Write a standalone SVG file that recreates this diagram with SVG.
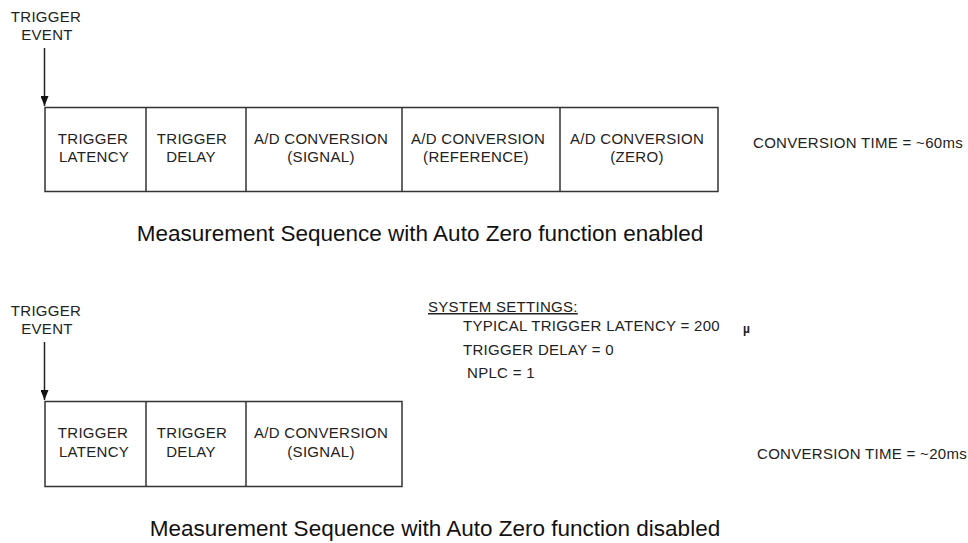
<svg xmlns="http://www.w3.org/2000/svg" width="968" height="543" viewBox="0 0 968 543">
<style>
.t{font-family:"Liberation Sans",Arial,sans-serif;font-size:15px;letter-spacing:0.3px;fill:#222}
.c{text-anchor:middle}
.cap{font-family:"Liberation Sans",Arial,sans-serif;font-size:22.5px;fill:#111;text-anchor:middle}
.box{fill:#fff;stroke:#333;stroke-width:1.5}
.div{stroke:#333;stroke-width:1.5}
.ln{stroke:#222;stroke-width:1.5;fill:none}
</style>
<defs>
<marker id="ah" viewBox="0 0 10 8" refX="10" refY="4" markerWidth="10" markerHeight="8" markerUnits="userSpaceOnUse" orient="auto">
<path d="M0,0 L10,4 L0,8 z" fill="#111"/>
</marker>
</defs>
<rect width="968" height="543" fill="#fff"/>

<!-- TOP SECTION -->
<g id="trigger-event-1">
<text class="t c" x="46" y="22">TRIGGER</text>
<text class="t c" x="47" y="40">EVENT</text>
</g>
<g id="connectors">
<line class="ln" x1="44.5" y1="48" x2="44.5" y2="106" marker-end="url(#ah)"/>
<line class="ln" x1="44.5" y1="342" x2="44.5" y2="400" marker-end="url(#ah)"/>
</g>
<g id="sequence-1">
<rect class="box" x="45" y="107.5" width="673" height="84"/>
<line class="div" x1="146" y1="107.5" x2="146" y2="191.5"/>
<line class="div" x1="246" y1="107.5" x2="246" y2="191.5"/>
<line class="div" x1="402" y1="107.5" x2="402" y2="191.5"/>
<line class="div" x1="560" y1="107.5" x2="560" y2="191.5"/>
<g id="s1-latency"><text class="t c" x="93" y="144">TRIGGER</text><text class="t c" x="94" y="162">LATENCY</text></g>
<g id="s1-delay"><text class="t c" x="192" y="144">TRIGGER</text><text class="t c" x="191" y="162">DELAY</text></g>
<g id="s1-signal"><text class="t c" x="321" y="144">A/D CONVERSION</text><text class="t c" x="321" y="162">(SIGNAL)</text></g>
<g id="s1-reference"><text class="t c" x="478" y="144">A/D CONVERSION</text><text class="t c" x="476" y="162">(REFERENCE)</text></g>
<g id="s1-zero"><text class="t c" x="637" y="144">A/D CONVERSION</text><text class="t c" x="637" y="162">(ZERO)</text></g>
</g>
<g id="conv-time-1"><text class="t" x="753" y="148">CONVERSION TIME = ~60ms</text></g>
<g id="caption-1"><text class="cap" x="420" y="241">Measurement Sequence with Auto Zero function enabled</text></g>

<!-- BOTTOM SECTION -->
<g id="trigger-event-2">
<text class="t c" x="46" y="316">TRIGGER</text>
<text class="t c" x="47" y="334">EVENT</text>
</g>
<g id="sequence-2">
<rect class="box" x="45" y="401.5" width="357" height="85"/>
<line class="div" x1="146" y1="401.5" x2="146" y2="486.5"/>
<line class="div" x1="246" y1="401.5" x2="246" y2="486.5"/>
<g id="s2-latency"><text class="t c" x="93" y="438">TRIGGER</text><text class="t c" x="94" y="457">LATENCY</text></g>
<g id="s2-delay"><text class="t c" x="192" y="438">TRIGGER</text><text class="t c" x="191" y="457">DELAY</text></g>
<g id="s2-signal"><text class="t c" x="321" y="438">A/D CONVERSION</text><text class="t c" x="321" y="457">(SIGNAL)</text></g>
</g>
<g id="system-settings">
<text class="t" x="428" y="312" text-decoration="underline">SYSTEM SETTINGS:</text>
<text class="t" x="463" y="331">TYPICAL TRIGGER LATENCY = 200</text>
<text class="t" x="743" y="333" style="font-size:12px;font-weight:bold">µ</text>
<text class="t" x="463" y="355">TRIGGER DELAY = 0</text>
<text class="t" x="467" y="378">NPLC = 1</text>
</g>
<g id="conv-time-2"><text class="t" x="757" y="459">CONVERSION TIME = ~20ms</text></g>
<g id="caption-2"><text class="cap" x="435" y="536">Measurement Sequence with Auto Zero function disabled</text></g>
</svg>
